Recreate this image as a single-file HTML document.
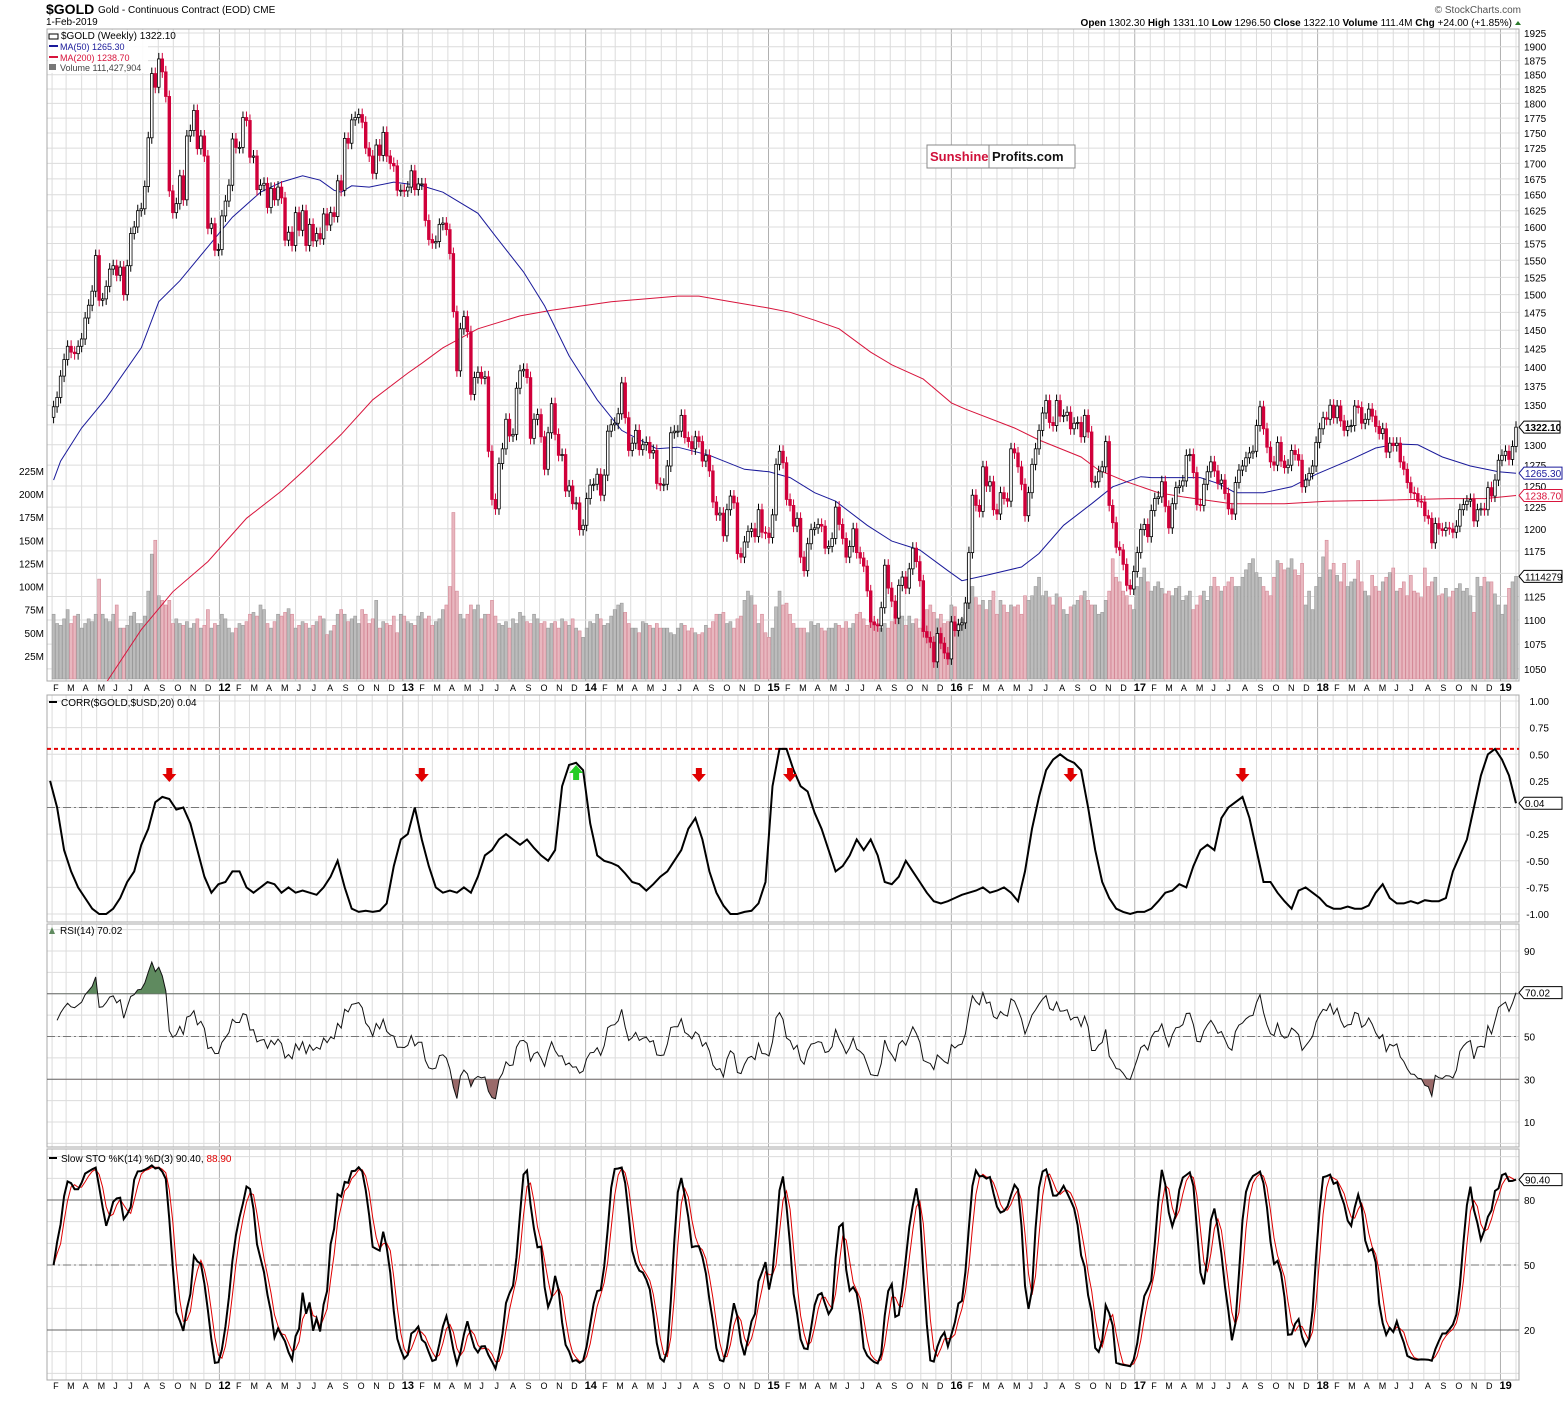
<!DOCTYPE html>
<html><head><meta charset="utf-8"><title>$GOLD weekly chart</title>
<style>
html,body{margin:0;padding:0;background:#fff;}
body{width:1565px;height:1396px;overflow:hidden;font-family:"Liberation Sans",sans-serif;}
svg text{font-family:"Liberation Sans",sans-serif;}
</style></head>
<body>
<svg id="chart" width="1565" height="1396" xmlns="http://www.w3.org/2000/svg">
<text x="46" y="14" font-size="14" font-weight="bold">$GOLD</text>
<text x="98" y="13" font-size="10">Gold - Continuous Contract (EOD) CME</text>
<text x="46" y="25" font-size="10">1-Feb-2019</text>
<text x="1521" y="13" font-size="10" fill="#555" text-anchor="end">© StockCharts.com</text>
<text x="1512" y="26" font-size="10" text-anchor="end"><tspan font-weight="bold">Open</tspan> 1302.30 <tspan font-weight="bold">High</tspan> 1331.10 <tspan font-weight="bold">Low</tspan> 1296.50 <tspan font-weight="bold">Close</tspan> 1322.10 <tspan font-weight="bold">Volume</tspan> 111.4M <tspan font-weight="bold">Chg</tspan> +24.00 (+1.85%)</text>
<polygon points="1515,25 1521,25 1518,21" fill="#2a7a2a"/>
</svg>
<script>
// ---- data ----
const lastBarDate = "2019-02-01";
const closes = [
1348,1360,1388,1410,1428,1420,1418,1428,1438,1467,1485,1505,1557,1492,1494,1512,1537,1542,1528,1540,1500,1542,1590,1600,1625,1628,1663,1742,1852,1828,1878,1855,1812,1656,1622,1636,1680,1642,1745,1754,1788,1724,1745,1712,1598,1605,1565,1566,
1617,1640,1665,1740,1726,1726,1776,1771,1710,1712,1658,1665,1668,1630,1660,1642,1662,1645,1580,1592,1572,1622,1595,1625,1572,1604,1579,1590,1582,1620,1603,1622,1616,1672,1657,1741,1733,1772,1776,1781,1768,1725,1712,1684,1730,1713,1751,1712,1700,1696,1657,1657,
1656,1662,1688,1658,1667,1667,1610,1581,1576,1578,1604,1606,1596,1560,1476,1395,1452,1469,1448,1364,1386,1393,1385,1387,1292,1234,1223,1277,1295,1332,1311,1313,1372,1395,1397,1386,1308,1332,1338,1310,1270,1315,1352,1313,1287,1288,1244,1250,1229,1230,1199,1204,
1235,1251,1252,1264,1239,1263,1317,1325,1327,1339,1379,1334,1293,1302,1318,1294,1300,1303,1290,1293,1253,1251,1252,1274,1315,1317,1317,1337,1309,1304,1295,1310,1304,1280,1287,1268,1231,1216,1218,1192,1222,1238,1230,1172,1168,1185,1197,1200,1191,1222,1196,1195,
1190,1216,1276,1292,1278,1234,1227,1203,1212,1168,1153,1183,1199,1201,1205,1203,1178,1180,1189,1225,1205,1189,1168,1180,1200,1173,1167,1158,1131,1098,1095,1094,1113,1159,1134,1120,1102,1137,1146,1134,1155,1178,1163,1142,1088,1082,1077,1057,1086,1076,1066,1060,
1098,1089,1095,1097,1118,1173,1239,1227,1220,1273,1250,1255,1222,1217,1242,1235,1232,1295,1290,1273,1252,1215,1242,1276,1295,1318,1340,1356,1328,1324,1356,1336,1337,1341,1320,1327,1328,1310,1337,1316,1255,1255,1267,1273,1304,1227,1207,1179,1176,1160,1137,1133,1152,
1173,1199,1205,1191,1221,1235,1237,1255,1226,1201,1229,1248,1250,1256,1287,1288,1266,1228,1227,1252,1267,1279,1268,1253,1257,1241,1223,1217,1254,1269,1274,1284,1290,1292,1324,1348,1320,1297,1279,1275,1303,1280,1272,1275,1293,1288,1281,1249,1257,1265,1274,1303,
1320,1334,1332,1350,1334,1349,1330,1318,1323,1324,1349,1347,1327,1332,1345,1336,1323,1314,1320,1291,1302,1299,1302,1279,1270,1254,1242,1241,1232,1231,1215,1212,1184,1206,1200,1198,1201,1200,1196,1203,1222,1228,1232,1234,1209,1222,1223,1222,1248,1238,1257,1281,
1287,1292,1282,1298,1322];
const volumesM = [
70,60,58,65,75,60,68,70,55,60,65,62,70,108,70,65,62,70,80,55,55,58,68,72,60,60,68,95,135,150,90,85,80,85,60,65,60,58,62,55,60,65,55,58,75,55,60,58,
70,65,55,50,55,60,58,62,70,72,68,80,75,60,55,62,70,68,72,76,70,55,58,62,60,55,58,62,68,65,48,52,58,70,75,70,62,65,68,60,75,70,60,65,85,55,62,60,58,68,50,70,
68,62,60,58,68,72,65,68,58,62,65,75,80,100,180,95,70,65,70,80,75,80,65,70,70,85,68,60,58,62,55,65,60,72,68,62,60,70,65,60,62,55,60,62,55,65,62,58,65,55,52,45,
55,62,60,70,65,58,60,68,75,80,82,72,60,55,55,50,62,60,58,55,60,55,55,55,50,48,55,60,58,52,55,50,48,50,58,55,62,70,70,72,60,62,55,65,68,85,95,90,80,60,70,50,
45,55,78,95,80,82,70,60,55,55,55,50,62,58,60,55,52,55,55,60,58,55,62,55,60,70,72,65,58,65,62,60,55,60,55,62,70,72,68,58,68,60,65,55,62,75,80,72,65,70,60,62,
80,78,60,65,70,90,100,88,80,85,75,85,95,70,85,80,72,80,78,80,70,90,85,90,100,110,90,95,88,80,92,88,75,70,78,80,85,90,95,85,80,80,70,72,85,95,130,110,105,95,90,80,75,
100,110,120,105,95,100,105,98,92,95,90,98,100,85,90,95,75,80,90,95,85,100,110,100,95,100,105,110,100,100,110,118,125,130,115,110,100,95,90,110,128,125,118,120,130,118,112,125,80,95,75,100,
110,132,150,118,125,112,105,125,100,105,108,128,105,95,90,112,100,95,105,110,115,120,95,98,105,90,112,95,93,88,120,100,105,110,90,92,98,88,95,98,103,95,98,90,72,110,100,110,105,105,92,80,
70,80,98,105,111];
// moving averages: week index + value
const ma50Weeks = [0,2,8,15,25,30,36,44,51,59,65,71,76,80,82,85,90,97,105,111,121,126,134,140,147,155,162,172,178,187,197,204,210,217,223,232,239,247,255,259,266,276,281,288,296,302,310,313,327,332,337,345,353,360,370,377,383,389,396,404,412,417];
const ma50Values = [1257,1280,1321,1359,1426,1490,1520,1570,1615,1654,1670,1680,1673,1657,1654,1664,1662,1670,1664,1654,1621,1586,1533,1484,1415,1357,1318,1295,1297,1287,1270,1267,1260,1242,1232,1204,1186,1176,1153,1142,1148,1157,1172,1204,1229,1249,1261,1260,1260,1253,1242,1242,1249,1264,1282,1296,1301,1300,1285,1274,1267,1265.3];
const ma200Weeks = [14,25,34,44,55,65,72,82,91,101,105,111,121,133,142,159,178,184,192,204,210,217,224,233,239,248,256,260,274,281,293,298,306,315,322,336,351,363,379,398,408,417];
const ma200Values = [1031,1090,1130,1163,1212,1244,1271,1313,1357,1392,1405,1426,1452,1470,1478,1490,1498,1498,1491,1481,1475,1464,1452,1420,1403,1384,1353,1345,1321,1306,1285,1269,1255,1242,1237,1229,1229,1232,1233,1235,1235,1238.7];
// 20-week correlation, sampled every 2 weeks ending at the last bar
const corrValues = [0.25,0.0,-0.4,-0.6,-0.75,-0.85,-0.95,-1.0,-1.0,-0.95,-0.85,-0.7,-0.6,-0.35,-0.2,0.05,0.1,0.08,-0.02,0.0,-0.15,-0.4,-0.65,-0.8,-0.72,-0.7,-0.6,-0.6,-0.75,-0.8,-0.75,-0.7,-0.72,-0.8,-0.75,-0.8,-0.78,-0.8,-0.82,-0.75,-0.65,-0.5,-0.75,-0.95,-0.98,-0.97,-0.98,-0.97,-0.9,-0.55,-0.3,-0.25,0.0,-0.3,-0.55,-0.75,-0.8,-0.78,-0.8,-0.75,-0.8,-0.65,-0.45,-0.4,-0.3,-0.25,-0.3,-0.35,-0.3,-0.38,-0.45,-0.5,-0.4,0.2,0.4,0.42,0.35,-0.15,-0.45,-0.5,-0.52,-0.55,-0.62,-0.7,-0.72,-0.78,-0.72,-0.65,-0.6,-0.5,-0.4,-0.2,-0.1,-0.3,-0.6,-0.8,-0.92,-1.0,-1.0,-0.98,-0.97,-0.9,-0.7,0.2,0.55,0.55,0.35,0.2,0.15,-0.05,-0.2,-0.4,-0.6,-0.55,-0.45,-0.3,-0.4,-0.3,-0.45,-0.7,-0.72,-0.65,-0.5,-0.6,-0.7,-0.8,-0.88,-0.9,-0.88,-0.85,-0.82,-0.8,-0.78,-0.75,-0.8,-0.78,-0.75,-0.8,-0.88,-0.6,-0.2,0.1,0.35,0.45,0.5,0.45,0.42,0.35,0.0,-0.4,-0.7,-0.85,-0.95,-0.98,-1.0,-0.98,-0.98,-0.95,-0.88,-0.8,-0.78,-0.72,-0.75,-0.55,-0.4,-0.35,-0.4,-0.1,0.0,0.05,0.1,-0.1,-0.4,-0.7,-0.7,-0.8,-0.88,-0.95,-0.78,-0.75,-0.8,-0.85,-0.92,-0.95,-0.95,-0.93,-0.95,-0.95,-0.92,-0.8,-0.72,-0.85,-0.9,-0.9,-0.88,-0.9,-0.87,-0.88,-0.88,-0.85,-0.6,-0.45,-0.3,0.0,0.3,0.5,0.55,0.45,0.3,0.04];
const priceTicks = [1050,1075,1100,1125,1150,1175,1200,1225,1250,1275,1300,1325,1350,1375,1400,1425,1450,1475,1500,1525,1550,1575,1600,1625,1650,1675,1700,1725,1750,1775,1800,1825,1850,1875,1900,1925];
const priceTickLabels = ["1050","1075","1100","1125","1150","1175","1200","1225","1250","1275","1300","","1350","1375","1400","1425","1450","1475","1500","1525","1550","1575","1600","1625","1650","1675","1700","1725","1750","1775","1800","1825","1850","1875","1900","1925"];
const volTicks = [25,50,75,100,125,150,175,200,225];
const corrTicks = [1,0.75,0.5,0.25,0,-0.25,-0.5,-0.75,-1];
const corrTickLabels = ["1.00","0.75","0.50","0.25","","-0.25","-0.50","-0.75","-1.00"];
const rsiTicks = [90,70,50,30,10];
const stoTicks = [80,50,20];
const corrThreshold = 0.55;
const arrowWeeks = [33,105,184,210,290,339];
const greenArrowWeeks = [149];
const monthLetters = ["J","F","M","A","M","J","J","A","S","O","N","D"];
// prior-period Wilder averages (avg weekly gain / loss) entering the window
const rsiSeedGain = 14, rsiSeedLoss = 11;

// ---- geometry / axes ----
const L=47, R=1519;
const MAIN={t:29,b:681}, CORR={t:695,b:922}, RSIP={t:924,b:1147}, STO={t:1149,b:1380};
const N = closes.length;
const WEEKPX = 3.507;
const lastMs = Date.parse(lastBarDate+"T00:00:00Z");
function xW(i){ return 1516 - (N-1-i)*WEEKPX; }
function xD(ms){ return 1516 - (lastMs-ms)/(7*864e5)*WEEKPX; }
function yP(p){ return 33 + (Math.log(1925)-Math.log(p))*1049; }
function yV(v){ return 679 - v*0.925; }
function yC(c){ return 807.5 - c*106.5; }
function yR(r){ return 1122 - (r-10)*2.1375; }
function yS(s){ return 1330 - (s-20)*2.1667; }

const NS="http://www.w3.org/2000/svg";
const svg=document.getElementById('chart');
function mk(tag,attrs,parent){ const e=document.createElementNS(NS,tag); for(const k in attrs) e.setAttribute(k,attrs[k]); (parent||svg).appendChild(e); return e; }

const defs=mk('defs',{});
function clip(id,y1,y2){ const c=mk('clipPath',{id:id},defs); mk('rect',{x:L,y:y1,width:R-L,height:y2-y1},c); }
clip('cMain',MAIN.t,MAIN.b); clip('cCorr',CORR.t,CORR.b); clip('cRsi',RSIP.t,RSIP.b); clip('cSto',STO.t,STO.b);
clip('cRsiHi',RSIP.t,yR(70)); clip('cRsiLo',yR(30),RSIP.b);

function panelGrid(p, hLines, name){
  const g=mk('g',{});
  
  
  mk('rect',{x:L,y:p.t,width:R-L,height:p.b-p.t,fill:'#fff',stroke:'none'},g);
  for(let y=2011;y<=2019;y++) for(let m=0;m<12;m++){
    const ms=Date.UTC(y,m,1); const x=xD(ms);
    if(x<L||x>R) continue;
    mk('line',{x1:x,x2:x,y1:p.t,y2:p.b,stroke:m===0?'#b0b0b0':'#dcdcdc','stroke-width':1},g);
  }
  hLines.forEach(y=>mk('line',{x1:L,x2:R,y1:y,y2:y,stroke:'#dcdcdc','stroke-width':1},g));
  mk('rect',{x:L,y:p.t,width:R-L,height:p.b-p.t,fill:'none',stroke:'#a8a8a8','stroke-width':1},g);
  return g;
}
panelGrid(MAIN, priceTicks.map(yP), 'price-panel-grid');
const corrGridY=[]; for(let c=-1;c<=1.001;c+=0.25) corrGridY.push(yC(c));
panelGrid(CORR, corrGridY, 'corr-panel-grid');
const rsiGridY=[]; for(let r=0;r<=100;r+=10) rsiGridY.push(yR(r));
panelGrid(RSIP, rsiGridY, 'rsi-panel-grid');
const stoGridY=[]; for(let s=0;s<=100;s+=10) stoGridY.push(yS(s));
panelGrid(STO, stoGridY, 'sto-panel-grid');

// ---- volume bars ----
const gVol=mk('g',{'clip-path':'url(#cMain)'});


for(let i=0;i<N;i++){
  const down = i>0 && closes[i]<closes[i-1];
  const x=xW(i), y=yV(volumesM[i]);
  const b=mk('rect',{x:x-1.5,y:y,width:3,height:679-y,fill:down?'#e8b7bf':'#bcbcbc',stroke:down?'#d58a98':'#9a9a9a','stroke-width':0.6},gVol);
  
  
}

// ---- moving averages ----
function maPath(weeks,vals,color,name){
  let d=''; weeks.forEach((w,k)=>{ d+=(k?'L':'M')+xW(w).toFixed(1)+','+yP(vals[k]).toFixed(1); });
  const p=mk('path',{d:d,fill:'none',stroke:color,'stroke-width':1,'clip-path':'url(#cMain)'});
  
  
}
maPath(ma200Weeks,ma200Values,'#d8143c','ma200-line');
maPath(ma50Weeks,ma50Values,'#1a1a9a','ma50-line');

// ---- candles ----
const gC=mk('g',{'clip-path':'url(#cMain)'});


for(let i=0;i<N;i++){
  const o = i>0?closes[i-1]:closes[i]*0.99, c=closes[i];
  const up = c>=o; const col = up?'#000':'#d0003a';
  const x=xW(i);
  const yt=yP(Math.max(o,c)), yb=yP(Math.min(o,c));
  const wick=mk('line',{x1:x,x2:x,y1:yt-6,y2:yb+6,stroke:col,'stroke-width':1},gC);
  
  
  const body=mk('rect',{x:x-1.3,y:yt,width:2.6,height:Math.max(1,yb-yt),fill:up?'#fff':col,stroke:col,'stroke-width':0.8},gC);
  
  
}

// ---- correlation ----
const M=corrValues.length;
let dC=''; corrValues.forEach((v,k)=>{ const w=(N-1)-2*(M-1-k); dC+=(k?'L':'M')+xW(w).toFixed(1)+','+yC(v).toFixed(1); });
const zl=mk('line',{x1:L,x2:R,y1:yC(0),y2:yC(0),stroke:'#777','stroke-dasharray':'8,3,2,3'});


const th=mk('line',{x1:L,x2:R,y1:yC(corrThreshold),y2:yC(corrThreshold),stroke:'#e00000','stroke-width':2,'stroke-dasharray':'4,3'});


const cl=mk('path',{d:dC,fill:'none',stroke:'#000','stroke-width':2,'clip-path':'url(#cCorr)'});


arrowWeeks.forEach(w=>{ const x=xW(w);
  const a=mk('polygon',{points:`${x-3},768 ${x+3},768 ${x+3},774 ${x+7},774 ${x},782 ${x-7},774 ${x-3},774`,fill:'#e00000'});
  
  
});
greenArrowWeeks.forEach(w=>{ const x=xW(w);
  const a=mk('polygon',{points:`${x},765 ${x+7},773 ${x+3},773 ${x+3},780 ${x-3},780 ${x-3},773 ${x-7},773`,fill:'#22cc22'});
  
  
});

// ---- RSI (14) from closes, Wilder smoothing ----
const rsi=[]; let ag=rsiSeedGain, al=rsiSeedLoss;
for(let i=1;i<N;i++){
  const ch=closes[i]-closes[i-1], g=Math.max(ch,0), l=Math.max(-ch,0);
  ag=(ag*13+g)/14; al=(al*13+l)/14;
  rsi[i]= al===0?100:100-100/(1+ag/al);
}
let dR='';
for(let i=1;i<N;i++) dR+=(i>1?'L':'M')+xW(i).toFixed(1)+','+yR(rsi[i]).toFixed(1);
[[70,'solid'],[50,'dash'],[30,'solid']].forEach(([v,s])=>{
  const ln=mk('line',{x1:L,x2:R,y1:yR(v),y2:yR(v),stroke:s==='solid'?'#666':'#777','stroke-dasharray':s==='solid'?'none':'8,3,2,3'});
  
  
});
const fillHi=mk('path',{d:dR+`L${xW(N-1)},${yR(70)}L${xW(1)},${yR(70)}Z`,fill:'#5f8a5f',stroke:'none','clip-path':'url(#cRsiHi)'});


const fillLo=mk('path',{d:dR+`L${xW(N-1)},${yR(30)}L${xW(1)},${yR(30)}Z`,fill:'#9a6a6a',stroke:'none','clip-path':'url(#cRsiLo)'});


const rl=mk('path',{d:dR,fill:'none',stroke:'#111','stroke-width':1,'clip-path':'url(#cRsi)'});



// ---- Slow stochastic from closes ----
const fk=[], sk=[], sd=[];
for(let i=0;i<N;i++){
  const s=Math.max(0,i-13); let hh=-1e9, ll=1e9;
  for(let j=s;j<=i;j++){ hh=Math.max(hh,closes[j]*1.006); ll=Math.min(ll,closes[j]*0.994); }
  fk[i]=100*(closes[i]-ll)/(hh-ll);
  const a=Math.max(0,i-2); let t=0; for(let j=a;j<=i;j++) t+=fk[j]; sk[i]=t/(i-a+1);
  let u=0; for(let j=a;j<=i;j++) u+=sk[j]; sd[i]=u/(i-a+1);
}
[[80,'solid'],[50,'dash'],[20,'solid']].forEach(([v,s])=>{
  const ln=mk('line',{x1:L,x2:R,y1:yS(v),y2:yS(v),stroke:s==='solid'?'#666':'#777','stroke-dasharray':s==='solid'?'none':'8,3,2,3'});
  
  
});
let dK='', dD='';
for(let i=0;i<N;i++){ dK+=(i?'L':'M')+xW(i).toFixed(1)+','+yS(sk[i]).toFixed(1); dD+=(i?'L':'M')+xW(i).toFixed(1)+','+yS(sd[i]).toFixed(1); }
const dl=mk('path',{d:dD,fill:'none',stroke:'#e00000','stroke-width':1,'clip-path':'url(#cSto)'});


const kl=mk('path',{d:dK,fill:'none',stroke:'#000','stroke-width':2,'clip-path':'url(#cSto)'});



// ---- axis labels ----
function txt(x,y,s,attrs,name){ const t=mk('text',Object.assign({x:x,y:y,'font-size':10},attrs||{})); t.textContent=s;   return t; }
priceTicks.forEach((p,k)=>{ if(priceTickLabels[k]) txt(1524,yP(p)+4,priceTickLabels[k],{},'price-tick-label'); });
volTicks.forEach(v=>txt(44,yV(v)+4,v+'M',{'text-anchor':'end'},'volume-tick-label'));
corrTicks.forEach((c,k)=>{ if(corrTickLabels[k]) txt(1549,yC(c)+4,corrTickLabels[k],{'text-anchor':'end'},'corr-tick-label'); });
rsiTicks.forEach(r=>txt(1524,yR(r)+4,String(r),{},'rsi-tick-label'));
stoTicks.forEach(s=>txt(1524,yS(s)+4,String(s),{},'sto-tick-label'));
[691,1389].forEach((yy)=>{
  for(let y=2011;y<=2019;y++) for(let m=0;m<12;m++){
    const x=xD(Date.UTC(y,m,1)); if(x<L-2||x>R-6) continue;
    if(m===0) txt(x-1,yy,String(y).slice(2),{'font-weight':'bold','font-size':11},'year-label');
    else txt(x+1,yy,monthLetters[m],{'font-size':9},'month-label');
  }
});
function tag(y,s,color,bold,name){
  const w=bold?36:38;
  const g=mk('g',{});
  
  
  mk('polygon',{points:`1519,${y} 1524,${y-6} ${1524+w},${y-6} ${1524+w},${y+6} 1524,${y+6}`,fill:'#fff',stroke:color,'stroke-width':1},g);
  const t=mk('text',{x:1525,y:y+4,'font-size':10,fill:color,'font-weight':bold?'bold':'normal'},g); t.textContent=s;
}
tag(yP(1322.1),'1322.10','#000',true,'last-price-tag');
tag(yP(1265.3),'1265.30','#1a1a9a',false,'ma50-tag');
tag(yP(1238.7),'1238.70','#d8143c',false,'ma200-tag');
tag(yV(volumesM[N-1]),'1114279','#000',false,'volume-tag');
tag(yC(corrValues[M-1]),'0.04','#000',false,'corr-tag');
tag(yR(rsi[N-1]),'70.02','#000',false,'rsi-tag');
tag(yS(sk[N-1]),'90.40','#000',false,'sto-tag');

function legendBg(x,y,w,h){ mk('rect',{x:x,y:y,width:w,height:h,fill:'#fff','fill-opacity':0.85}); }
legendBg(48,30,100,43);
txt(61,39,'$GOLD (Weekly) 1322.10',{'font-size':10},'price-legend');
mk('rect',{x:49,y:34,width:9,height:5,fill:'none',stroke:'#000'});
mk('line',{x1:49,x2:58,y1:46,y2:46,stroke:'#1a1a9a','stroke-width':2});
txt(60,50,'MA(50) 1265.30',{'font-size':9,fill:'#1a1a9a'},'ma50-legend');
mk('line',{x1:49,x2:58,y1:57,y2:57,stroke:'#d8143c','stroke-width':2});
txt(60,61,'MA(200) 1238.70',{'font-size':9,fill:'#d8143c'},'ma200-legend');
mk('rect',{x:49,y:64,width:7,height:6,fill:'#777'});
txt(60,71,'Volume 111,427,904',{'font-size':9,fill:'#444'},'volume-legend');
mk('line',{x1:49,x2:57,y1:702,y2:702,stroke:'#000','stroke-width':2});
txt(61,706,'CORR($GOLD,$USD,20) 0.04',{'font-size':10},'corr-legend');
txt(60,934,'RSI(14) 70.02',{'font-size':10},'rsi-legend');
mk('polygon',{points:'49,934 52,927 55,934',fill:'#5f8a5f'});
mk('line',{x1:49,x2:57,y1:1158,y2:1158,stroke:'#000','stroke-width':2});
const stl=txt(61,1162,'Slow STO %K(14) %D(3) 90.40, ',{'font-size':10},'sto-legend');
const ts=document.createElementNS(NS,'tspan'); ts.setAttribute('fill','#e00000'); ts.textContent='88.90'; stl.appendChild(ts);

const wm=mk('g',{});


mk('rect',{x:927,y:145,width:148,height:23,fill:'#fff',stroke:'#888','stroke-width':1},wm);
mk('line',{x1:989,x2:989,y1:145,y2:168,stroke:'#888'},wm);
const w1=mk('text',{x:930,y:161,'font-size':13,'font-weight':'bold',fill:'#d0103a'},wm); w1.textContent='Sunshine';
const w2=mk('text',{x:992,y:161,'font-size':13,'font-weight':'bold',fill:'#111'},wm); w2.textContent='Profits.com';
</script>
</body></html>
